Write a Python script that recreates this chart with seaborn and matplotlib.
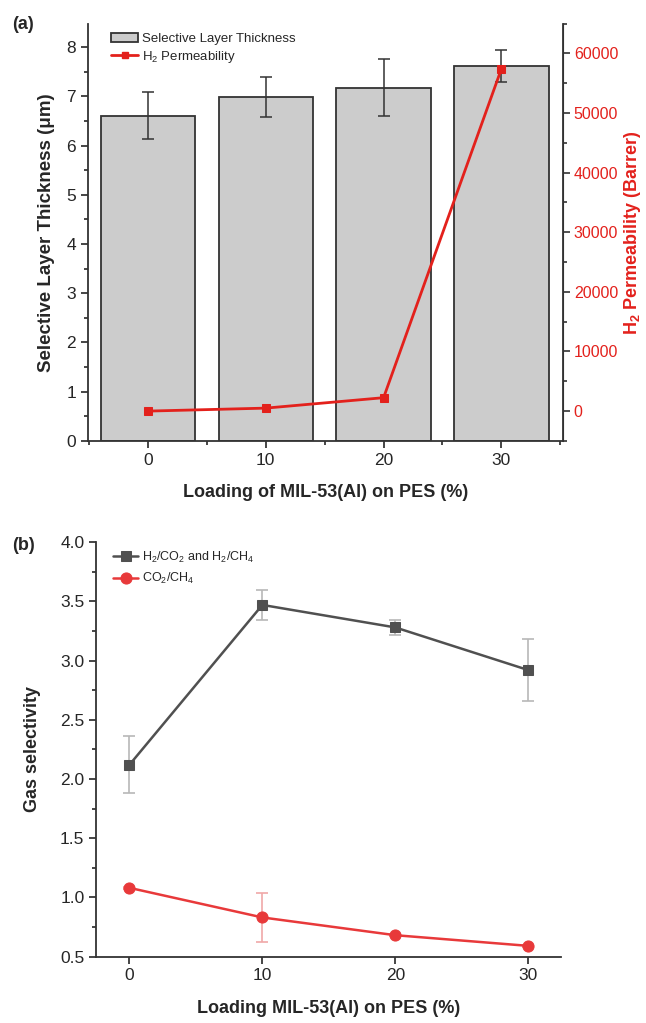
import matplotlib
matplotlib.use("Agg")
import matplotlib.pyplot as plt
import pandas as pd
import seaborn as sns
from matplotlib.lines import Line2D
from matplotlib.patches import Patch
from matplotlib.ticker import MultipleLocator, FormatStrFormatter

# (a) selective layer thickness and H2 permeability
loading = [0, 10, 20, 30]
thickness = [6.61, 6.99, 7.18, 7.62]
thickness_err = [0.47, 0.41, 0.57, 0.33]
permeability = [0, 500, 2250, 57400]

# (b) gas selectivity
sel_h2 = [2.12, 3.47, 3.28, 2.92]
sel_h2_err = [0.24, 0.13, 0.06, 0.26]
sel_co2 = [1.08, 0.83, 0.68, 0.59]
sel_co2_err = [0.01, 0.21, 0.01, 0.01]

sns.set_style("ticks")
plt.rcParams['font.family'] = ['Liberation Sans', 'DejaVu Sans']
plt.rcParams['mathtext.default'] = 'regular'

RED = "#e3211c"
tick_kw = dict(direction="out", length=5, width=1.2, labelsize=12.5)

fig = plt.figure(figsize=(6.46, 10.23), dpi=100)
ax = fig.add_axes([0.136, 0.569, 0.735, 0.408])
ax_b = fig.add_axes([0.149, 0.065, 0.720, 0.405])

df_a = pd.DataFrame({"Loading": loading, "Thickness": thickness, "Perm": permeability})

sns.barplot(data=df_a, x="Loading", y="Thickness", native_scale=True, errorbar=None,
            color="#cccccc", edgecolor="#333333", linewidth=1.3, saturation=1, ax=ax)
ax.errorbar(loading, thickness, yerr=thickness_err, fmt="none", ecolor="#333333",
            elinewidth=1.1, capsize=4, capthick=1.1)
ax.set_xlim(-5.1, 35.2)
ax.set_ylim(0, 8.48)
ax.set_xticks(loading)
ax.xaxis.set_minor_locator(MultipleLocator(5))
ax.yaxis.set_major_locator(MultipleLocator(1))
ax.yaxis.set_minor_locator(MultipleLocator(0.5))
ax.tick_params(which="both", **tick_kw)
ax.tick_params(which="minor", length=3)
ax.set_xlabel("Loading of MIL-53(Al) on PES (%)", fontsize=13, fontweight="bold", labelpad=12)
ax.set_ylabel("Selective Layer Thickness (μm)", fontsize=13.5, fontweight="bold", labelpad=8)
for s in ["left", "bottom"]:
    ax.spines[s].set_linewidth(1.3)
    ax.spines[s].set_color("#333333")
ax.spines["top"].set_visible(False)

ax2 = ax.twinx()
sns.lineplot(data=df_a, x="Loading", y="Perm", color=RED, linewidth=2, marker="s",
             markersize=6, markeredgecolor=RED, ax=ax2)
ax2.set_ylim(-5000, 65000)
ax2.yaxis.set_major_locator(MultipleLocator(10000))
ax2.yaxis.set_minor_locator(MultipleLocator(5000))
ax2.tick_params(which="both", direction="out", length=5, width=1.2, labelsize=11.5,
                colors="#333333", labelcolor=RED, pad=3)
ax2.tick_params(which="minor", length=3)
ax2.set_ylabel("H$_2$ Permeability (Barrer)", fontsize=13, fontweight="bold", color=RED, labelpad=3)
ax2.spines["right"].set_linewidth(1.3)
ax2.spines["right"].set_color("#333333")
ax2.spines["top"].set_visible(False)
ax2.spines["left"].set_visible(False)
ax2.spines["bottom"].set_visible(False)

handles = [Patch(facecolor="#cccccc", edgecolor="#333333", linewidth=1.3),
           Line2D([], [], color=RED, linewidth=2, marker="s", markersize=5)]
ax.legend(handles, ["Selective Layer Thickness", "H$_2$ Permeability"], loc="upper left",
          frameon=False, fontsize=9.5, handlelength=2.0, handletextpad=0.3,
          borderaxespad=0.3, labelspacing=0.3, bbox_to_anchor=(0.03, 1.0))

# panel (b)
df_b = pd.DataFrame({"Loading": loading, "H2": sel_h2, "CO2": sel_co2})
ax_b.errorbar(loading, sel_h2, yerr=sel_h2_err, fmt="none", ecolor="#b8b8b8",
              elinewidth=1.2, capsize=4, capthick=1.2)
ax_b.errorbar(loading, sel_co2, yerr=sel_co2_err, fmt="none", ecolor="#f0a8a8",
              elinewidth=1.2, capsize=4, capthick=1.2)
sns.lineplot(data=df_b, x="Loading", y="H2", color="#505050", linewidth=1.8, marker="s",
             markersize=7, markeredgecolor="#505050", label="H$_2$/CO$_2$ and H$_2$/CH$_4$", ax=ax_b)
sns.lineplot(data=df_b, x="Loading", y="CO2", color="#e8393a", linewidth=1.8, marker="o",
             markersize=8, markeredgecolor="#e8393a", label="CO$_2$/CH$_4$", ax=ax_b)
ax_b.set_xlim(-2.5, 32.5)
ax_b.set_ylim(0.5, 4.0)
ax_b.set_xticks(loading)
ax_b.yaxis.set_major_locator(MultipleLocator(0.5))
ax_b.yaxis.set_minor_locator(MultipleLocator(0.25))
ax_b.yaxis.set_major_formatter(FormatStrFormatter("%.1f"))
ax_b.tick_params(which="both", **tick_kw)
ax_b.tick_params(which="minor", length=3)
ax_b.set_xlabel("Loading MIL-53(Al) on PES (%)", fontsize=13, fontweight="bold", labelpad=12)
ax_b.set_ylabel("Gas selectivity", fontsize=13, fontweight="bold", labelpad=14)
for s in ["left", "bottom"]:
    ax_b.spines[s].set_linewidth(1.3)
    ax_b.spines[s].set_color("#333333")
sns.despine(ax=ax_b)
ax_b.legend(loc="upper left", frameon=False, fontsize=9, handlelength=2.0,
            handletextpad=0.3, labelspacing=0.5, borderaxespad=0.2,
            bbox_to_anchor=(0.02, 1.0))

fig.text(0.018, 0.972, "(a)", fontsize=13, fontweight="bold")
fig.text(0.018, 0.462, "(b)", fontsize=13, fontweight="bold")

plt.savefig("out.png", dpi=100)
